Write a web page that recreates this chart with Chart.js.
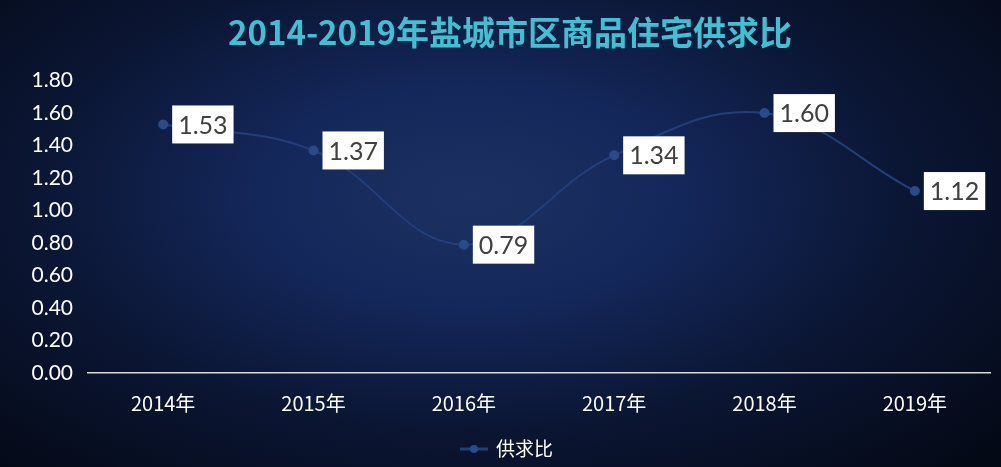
<!DOCTYPE html>
<html>
<head>
<meta charset="utf-8">
<script src="https://cdn.jsdelivr.net/npm/chart.js@4"></script>
<style>
  html, body { margin: 0; padding: 0; }
  body {
    width: 1001px; height: 467px; overflow: hidden;
    background: radial-gradient(ellipse 70% 80% at 47% 42%, #1c3162 0%, #14275a 30%, #0b1634 62%, #040916 100%);
  }
  #wrap { position: relative; width: 1001px; height: 467px; }
</style>
</head>
<body>
<div id="wrap"><canvas id="chart"></canvas></div>
<script>
const years = ["2014年", "2015年", "2016年", "2017年", "2018年", "2019年"];
const ratio = [1.53, 1.37, 0.79, 1.34, 1.60, 1.12];
const seriesName = "供求比";
const chartTitle = "2014-2019年盐城市区商品住宅供求比";

const lineColor = "#223f7a";
const dotColor = "#2b4a88";

// white boxes with the value, to the right of each point
const valueBoxes = {
  id: "valueBoxes",
  afterDatasetsDraw(chart) {
    const ctx = chart.ctx;
    const meta = chart.getDatasetMeta(0);
    ctx.save();
    ctx.font = "25px Lato, 'Noto Sans'";
    ctx.textBaseline = "middle";
    ctx.textAlign = "left";
    meta.data.forEach((pt, i) => {
      const txt = ratio[i].toFixed(2);
      const w = ctx.measureText(txt).width + 12;
      const h = 38;
      const x = pt.x + 9;
      const y = pt.y - h / 2;
      ctx.fillStyle = "#ffffff";
      ctx.fillRect(x, y, w, h);
      ctx.fillStyle = "#404040";
      ctx.fillText(txt, x + 6, pt.y + 1);
    });
    ctx.restore();
  }
};

// excel style legend: short line with a dot, then the series name
const lineLegend = {
  id: "lineLegend",
  afterDraw(chart) {
    const ctx = chart.ctx;
    ctx.save();
    ctx.font = "19px 'Noto Sans CJK SC'";
    const tw = ctx.measureText(seriesName).width;
    const total = 28 + 8 + tw;
    const x0 = chart.width / 2 - total / 2 + 6;
    const y = 449;
    ctx.strokeStyle = lineColor;
    ctx.lineWidth = 3;
    ctx.beginPath();
    ctx.moveTo(x0, y);
    ctx.lineTo(x0 + 28, y);
    ctx.stroke();
    ctx.fillStyle = dotColor;
    ctx.beginPath();
    ctx.arc(x0 + 14, y, 4, 0, Math.PI * 2);
    ctx.fill();
    ctx.fillStyle = "#ffffff";
    ctx.textBaseline = "middle";
    ctx.fillText(seriesName, x0 + 36, y);
    ctx.restore();
  }
};

new Chart(document.getElementById("chart"), {
  type: "line",
  data: {
    labels: years,
    datasets: [{
      label: seriesName,
      data: ratio,
      borderColor: lineColor,
      borderWidth: 2,
      backgroundColor: dotColor,
      pointBackgroundColor: dotColor,
      pointBorderColor: dotColor,
      pointRadius: 4,
      tension: 0.4,
      fill: false
    }]
  },
  options: {
    responsive: true,
    maintainAspectRatio: false,
    animation: false,
    layout: { padding: { left: 30, right: 11, top: 0, bottom: 0 } },
    plugins: {
      legend: { display: false },
      tooltip: { enabled: false },
      title: {
        display: true,
        text: chartTitle,
        color: "#3fc1d3",
        font: { family: "'Noto Sans CJK SC'", size: 33, weight: "bold" },
        padding: { top: 13, bottom: 28 }
      }
    },
    scales: {
      x: {
        offset: true,
        grid: { display: false, drawTicks: false },
        border: { display: true, color: "#d9d9d9", width: 1.5 },
        ticks: {
          color: "#ffffff",
          font: { family: "'Noto Sans CJK SC'", size: 20 },
          padding: 18,
          maxRotation: 0
        },
        afterFit(scale) { scale.height = 94; }
      },
      y: {
        min: 0,
        max: 1.8,
        grid: { display: false, drawTicks: false },
        border: { display: false },
        ticks: {
          stepSize: 0.2,
          color: "#ffffff",
          font: { family: "Lato, 'Noto Sans'", size: 21 },
          padding: 15,
          callback: v => Number(v).toFixed(2)
        },
        afterFit(scale) { scale.width = 58; }
      }
    }
  },
  plugins: [valueBoxes, lineLegend]
});
</script>
</body>
</html>
